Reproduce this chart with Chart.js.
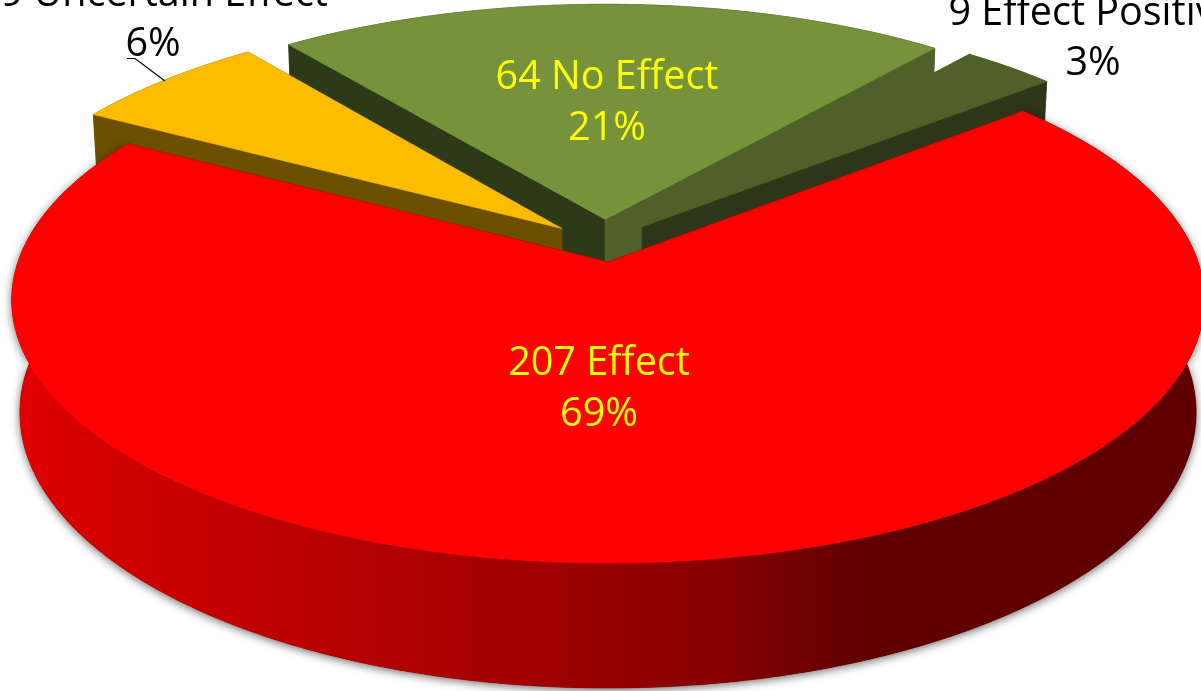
<!DOCTYPE html>
<html>
<head>
<meta charset="utf-8">
<title>Effect breakdown</title>
<style>
  html, body { margin: 0; padding: 0; background: #fff; overflow: hidden; }
  canvas { display: block; }
</style>
<script src="https://cdn.jsdelivr.net/npm/chart.js@4/dist/chart.umd.min.js"></script>
</head>
<body>
<canvas id="pie" width="1201" height="691"></canvas>
<script>
const categories = ['Effect', 'Uncertain Effect', 'No Effect', 'Effect Positive'];
const counts = [207, 19, 64, 9];
const percents = [69, 6, 21, 3];

// Face colours per slice
const topColors = ['#FF0000', '#FBBC00', '#76923B', '#4F6028'];
const cutColors = [
  ['#600000', '#600000'],
  ['#6B5000', '#6B5000'],
  ['#2D3A18', '#4F6028'],
  ['#4F6028', '#2D3618']
];
// Explosion of each slice on the pie plane, in radius units (right, back)
const explode = [[0, 0], [-0.08, 0.133], [-0.005, 0.17], [0.059, 0.14]];
// Back-to-front painting order
const paintOrder = [2, 1, 3, 0];

// Label placement: centre x, first and second baselines, colour
const labelSpots = [
  { x: 599, y1: 375, y2: 426, color: '#FFFF00' },
  { x: 153, y1: 6, y2: 56, color: '#000000' },
  { x: 607, y1: 89, y2: 140, color: '#FFFF00' },
  { x: 1093, y1: 25, y2: 75, color: '#000000' }
];

// Perspective camera over the pie plane
const CAM = { cx: 608, cy: 262, sx: 590, sy: 257.5, p: 0.1445, q: 0.0135, t: 112.7 };

function project(u, v, down) {
  const w = 1 + CAM.p * v + CAM.q * down;
  return {
    x: CAM.cx + u * CAM.sx / w,
    y: CAM.cy + (-v * CAM.sy + CAM.t * down) / w
  };
}

function rimPoint(theta, shift, down) {
  return project(Math.sin(theta) + shift[0], Math.cos(theta) + shift[1], down);
}

function tracePoly(ctx, pts) {
  ctx.beginPath();
  pts.forEach((pt, i) => (i ? ctx.lineTo(pt.x, pt.y) : ctx.moveTo(pt.x, pt.y)));
  ctx.closePath();
}

function fillPoly(ctx, pts, fill) {
  tracePoly(ctx, pts);
  ctx.fillStyle = fill;
  ctx.fill();
  ctx.strokeStyle = fill;
  ctx.lineWidth = 0.6;
  ctx.stroke();
}

const pie3d = {
  id: 'pie3d',
  beforeDatasetsDraw(chart) {
    const ctx = chart.ctx;
    const arcs = chart.getDatasetMeta(0).data;

    ctx.save();
    paintOrder.forEach(i => {
      const props = arcs[i].getProps(['startAngle', 'endAngle']);
      const a0 = props.startAngle + Math.PI / 2;
      const a1 = props.endAngle + Math.PI / 2;
      const shift = explode[i];
      const steps = Math.max(4, Math.ceil((a1 - a0) / 0.01));
      const topRim = [];
      const lowRim = [];
      for (let s = 0; s <= steps; s++) {
        const th = a0 + (a1 - a0) * s / steps;
        topRim.push(rimPoint(th, shift, 0));
        lowRim.push(rimPoint(th, shift, 1));
      }
      const apexTop = project(shift[0], shift[1], 0);
      const apexLow = project(shift[0], shift[1], 1);

      // Outer wall, with the soft drop shadow on the big slice
      let wallFill = cutColors[i][0];
      if (i === 0) {
        const g = ctx.createLinearGradient(20, 0, 1200, 0);
        g.addColorStop(0, '#E00000');
        g.addColorStop(0.13, '#C80000');
        g.addColorStop(0.41, '#A50000');
        g.addColorStop(0.58, '#880000');
        g.addColorStop(0.72, '#600000');
        g.addColorStop(1, '#600000');
        wallFill = g;
        ctx.save();
        ctx.shadowColor = 'rgba(0,0,0,0.6)';
        ctx.shadowBlur = 10;
        ctx.shadowOffsetY = 2;
        tracePoly(ctx, topRim.concat(lowRim.slice().reverse()));
        ctx.fillStyle = '#600000';
        ctx.fill();
        ctx.restore();
      }
      fillPoly(ctx, topRim.concat(lowRim.slice().reverse()), wallFill);

      // The two cut faces running into the pie's axis
      fillPoly(ctx, [apexTop, topRim[0], lowRim[0], apexLow], cutColors[i][0]);
      fillPoly(ctx, [apexTop, topRim[steps], lowRim[steps], apexLow], cutColors[i][1]);

      // Top face
      fillPoly(ctx, [apexTop].concat(topRim), topColors[i]);
    });

    // Slice labels
    ctx.font = '39.5px "Open Sans", sans-serif';
    ctx.textAlign = 'center';
    ctx.textBaseline = 'alphabetic';
    categories.forEach((name, i) => {
      const spot = labelSpots[i];
      ctx.fillStyle = spot.color;
      ctx.fillText(counts[i] + ' ' + name, spot.x, spot.y1);
      ctx.fillText(percents[i] + '%', spot.x, spot.y2);
    });

    // Leader line from the small slice's label
    ctx.beginPath();
    ctx.moveTo(127, 58.5);
    ctx.lineTo(135, 58.5);
    ctx.lineTo(165, 81);
    ctx.strokeStyle = '#000';
    ctx.lineWidth = 1.2;
    ctx.stroke();
    ctx.restore();
    return false;
  }
};

new Chart(document.getElementById('pie'), {
  type: 'pie',
  data: {
    labels: categories,
    datasets: [{ data: counts, backgroundColor: topColors, borderWidth: 0 }]
  },
  options: {
    responsive: false,
    animation: false,
    rotation: 50.2,
    layout: { padding: 0 },
    plugins: { legend: { display: false }, tooltip: { enabled: false } }
  },
  plugins: [pie3d]
});
</script>
</body>
</html>
